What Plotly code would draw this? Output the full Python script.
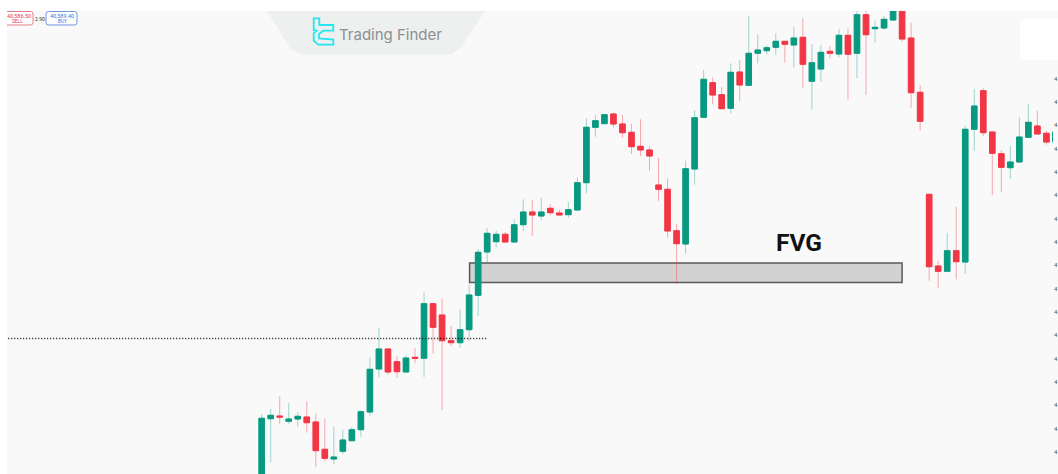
import plotly.graph_objects as go

highs = [40059.7,40065,40077.7,40070.7,40061.7,40072.7,40060.7,40055.3,40047.3,40044.3,40047,40063.7,40116.3,40146.3,40126,40118,40118.7,40126,40181.7,40170.7,40175.3,40148,40164.3,40189,40225,40245.7,40243.3,40242,40254.7,40274.7,40274,40276.3,40269.7,40264.3,40272,40296.7,40355.7,40359.3,40360,40361.3,40359,40350,40354.7,40327.7,40316,40295.7,40250.3,40313.3,40363.7,40404,40396.7,40387,40410.7,40414,40458,40439.7,40428.3,40440.7,40432.7,40446.7,40455.7,40430,40429,40427.7,40445.3,40445.3,40466,40466,40453.3,40458,40469,40468,40451.3,40389,40279.7,40213.3,40241,40267.3,40348.3,40385,40385.7,40342.7,40324,40328,40356.7,40370.3,40363.3,40343,40342]
lows = [39979,40011.7,40050.3,40050.3,40047,40041.3,40007,40012.7,40009.7,40019.7,40032.7,40037.3,40058.3,40097,40099.3,40096,40102,40110.7,40097,40120.3,40064,40128,40126.3,40133,40158.3,40211.3,40226.7,40232,40232,40243.3,40238,40254,40258.7,40259,40256.3,40264,40280.7,40337.3,40350.3,40346.7,40336.3,40320,40318,40303.3,40273,40236.3,40190.3,40220.3,40289.3,40356.7,40370,40365.3,40360.7,40373.3,40388,40410.7,40419.3,40419.3,40411.3,40406.3,40386.3,40364.3,40392.3,40415.7,40416.7,40374.7,40396,40379,40431.3,40444,40453.3,40432.3,40366.3,40343.3,40193.3,40186,40202.7,40194.7,40200,40323.3,40337.7,40279,40282.3,40295.3,40312,40336.7,40340,40329.3,40332]
opens = [39984,40055.3,40058,40052.7,40055,40057,40052,40024.7,40015,40022.7,40033.3,40044.3,40062,40105,40125,40112.3,40102,40116.7,40115.7,40170.3,40159,40133.3,40131.3,40144.3,40178.7,40222,40232.3,40239.7,40232,40249.3,40262,40258,40265.7,40261,40259.3,40264,40291.3,40346.7,40350.3,40360,40350,40341.7,40327.7,40324,40289,40284.7,40243.3,40230,40305,40356.7,40391.3,40379.3,40365.7,40402,40388.7,40420.7,40423.3,40426.7,40432.7,40429,40436.7,40392.7,40405,40422.7,40420,40438.7,40420.7,40459.3,40445.3,40446,40454,40466,40436,40381.7,40279.7,40208,40202.7,40223.3,40212,40344.7,40383.3,40342,40320.3,40306.3,40312,40336.7,40348,40340.7,40332]
closes = [40055.7,40058.7,40057,40055,40057.7,40051.3,40023.3,40015.7,40017,40034,40044.3,40062.3,40104.7,40125,40102,40102.3,40116,40115.7,40170.3,40146.7,40133.3,40131.3,40144.3,40179,40221.7,40240.7,40239.7,40232,40249.3,40262,40259,40262,40261.3,40259,40264.3,40291.3,40346.7,40353.3,40359.3,40350,40341.3,40327.3,40324,40318,40284.7,40243,40230.3,40305.3,40356.3,40394.7,40379,40365.3,40401.7,40389,40420.7,40424,40426.3,40432.7,40429.7,40436,40409.7,40411.3,40421.7,40420.7,40438.7,40419.7,40459.3,40439.3,40446.7,40454.7,40466,40435,40381.3,40352.7,40207.3,40202.7,40223.3,40212.3,40344.7,40368,40341.3,40320.7,40306.7,40312,40337,40351.7,40340,40332,40342]
bar_index = list(range(len(opens)))
body_highs = [max(o, c) for o, c in zip(opens, closes)]
body_lows = [min(o, c) for o, c in zip(opens, closes)]

tick_values = [40395.3,40372,40348.7,40325.3,40302,40278.7,40255.3,40232,40208.7,40185.3,40162,40138.7,40115.3,40092,40068.7,40045.3,40022]
tick_labels = ["4"] * len(tick_values)

swing_level_x = [-28.1, 25]
swing_level_y = [40135.5, 40135.5]
fvg_x = [23.05, 71]
fvg_y = [40191.5, 40211]

W, H, PW = 1058, 474, 1053
GREEN, RED = "#089981", "#f23645"
GREEN_W, RED_W = "rgba(8,153,129,0.38)", "rgba(242,54,69,0.42)"

def X(p): return p / PW
def Y(p): return 1 - p / H
def path(points):
    return "M " + " L ".join(f"{X(a):.5f},{Y(b):.5f}" for a, b in points) + " Z"
def rounded(x0, y0, x1, y1, r):
    a, b, c, d = X(x0), Y(y0), X(x1), Y(y1)
    rx, ry = r / PW, r / H
    return (f"M {a+rx:.5f},{b:.5f} L {c-rx:.5f},{b:.5f} Q {c:.5f},{b:.5f} {c:.5f},{b-ry:.5f} "
            f"L {c:.5f},{d+ry:.5f} Q {c:.5f},{d:.5f} {c-rx:.5f},{d:.5f} L {a+rx:.5f},{d:.5f} "
            f"Q {a:.5f},{d:.5f} {a:.5f},{d+ry:.5f} L {a:.5f},{b-ry:.5f} Q {a:.5f},{b:.5f} {a+rx:.5f},{b:.5f} Z")

fig = go.Figure()
fig.add_trace(go.Candlestick(
    x=bar_index, open=opens, high=highs, low=lows, close=closes,
    increasing=dict(line=dict(color=GREEN_W, width=1), fillcolor="rgba(0,0,0,0)"),
    decreasing=dict(line=dict(color=RED_W, width=1), fillcolor="rgba(0,0,0,0)"),
    whiskerwidth=0, name="wicks", hoverinfo="skip"))
fig.add_trace(go.Candlestick(
    x=bar_index, open=opens, high=body_highs, low=body_lows, close=closes,
    increasing=dict(line=dict(color=GREEN, width=1), fillcolor=GREEN),
    decreasing=dict(line=dict(color=RED, width=1), fillcolor=RED),
    whiskerwidth=0, name="bodies"))
fig.add_trace(go.Scatter(x=swing_level_x, y=swing_level_y, mode="lines",
                         line=dict(color="#111111", width=1.3, dash="1px 2px"), hoverinfo="skip"))

shapes = [
    dict(type="rect", xref="x", yref="y", x0=fvg_x[0], x1=fvg_x[1], y0=fvg_y[0], y1=fvg_y[1],
         fillcolor="#d2d2d2", line=dict(color="#5a5a5a", width=1.5), layer="below"),
    dict(type="path", xref="paper", yref="paper",
         path=path([(267, 11), (485, 11), (462, 46), (452, 54.5), (300, 54.5), (290, 48)]),
         fillcolor="#eeefef", line=dict(width=0), layer="below"),
    dict(type="path", xref="paper", yref="paper", path=rounded(1020, 18, 1075, 60, 7),
         fillcolor="#ffffff", line=dict(width=0), layer="below"),
    dict(type="path", xref="paper", yref="paper",
         path=path([(313.7,18.3),(319.3,18.3),(319.3,25),(333.3,25),(333.3,30.7),(323.3,30.7),(319,34),
                    (319,38.3),(333.3,39.5),(333.3,44.7),(318.3,44.7),(313.7,40.7),(313.7,33.3),(316.7,30.7),(313.7,30)]),
         fillcolor="rgba(0,0,0,0)", line=dict(color="#22e6f2", width=1.8), layer="above"),
    dict(type="path", xref="paper", yref="paper", path=rounded(2, 11.5, 33, 25, 2.5),
         fillcolor="#ffffff", line=dict(color="#e47f8b", width=1), layer="above"),
    dict(type="path", xref="paper", yref="paper", path=rounded(46, 11.5, 77, 25, 2.5),
         fillcolor="#ffffff", line=dict(color="#6f97e2", width=1), layer="above"),
    dict(type="rect", xref="paper", yref="paper", x0=0, x1=X(W), y0=Y(11), y1=Y(0),
         fillcolor="#ffffff", line=dict(width=0), layer="above"),
    dict(type="rect", xref="paper", yref="paper", x0=0, x1=X(7), y0=0, y1=1,
         fillcolor="#ffffff", line=dict(width=0), layer="above"),
]

def note(text, x, y, size, color, family="Roboto", **kw):
    return dict(text=text, xref="paper", yref="paper", x=X(x), y=Y(y), showarrow=False,
                xanchor="center", yanchor="middle", font=dict(family=family, size=size, color=color), **kw)

annotations = [
    note("<b>FVG</b>", 799, 242, 24.5, "#111111", family="Roboto"),
    note("Trading Finder", 390, 34.5, 15, "#8b8f92", family="Inter"),
    note("40,586.50", 18.5, 15.7, 5.5, "#d9404f"),
    note("SELL", 17, 21, 4.8, "#d9404f"),
    note("2.90", 39.5, 18.5, 5, "#333333"),
    note("40,589.40", 61.5, 15.7, 5.5, "#3f73d8"),
    note("BUY", 62, 21, 4.8, "#3f73d8"),
]

fig.update_layout(
    width=W, height=H, autosize=False, showlegend=False, boxgap=0.12,
    margin=dict(l=0, r=W - PW, t=0, b=0, pad=0),
    paper_bgcolor="#f9f9f9", plot_bgcolor="#f9f9f9",
    shapes=shapes, annotations=annotations,
    xaxis=dict(range=[-29.01, 87.73], visible=False, rangeslider=dict(visible=False), fixedrange=True),
    yaxis=dict(range=[40000, 40474], side="right", showgrid=False, zeroline=False, showline=False,
               tickmode="array", tickvals=tick_values, ticktext=tick_labels, ticks="", ticklabelstandoff=0,
               automargin=False, fixedrange=True, tickfont=dict(family="Roboto", size=6, color="#555555")),
)

fig.write_html("out.html", config=dict(displayModeBar=False),
               post_script="document.body.style.margin='0';document.body.style.overflow='hidden';")
